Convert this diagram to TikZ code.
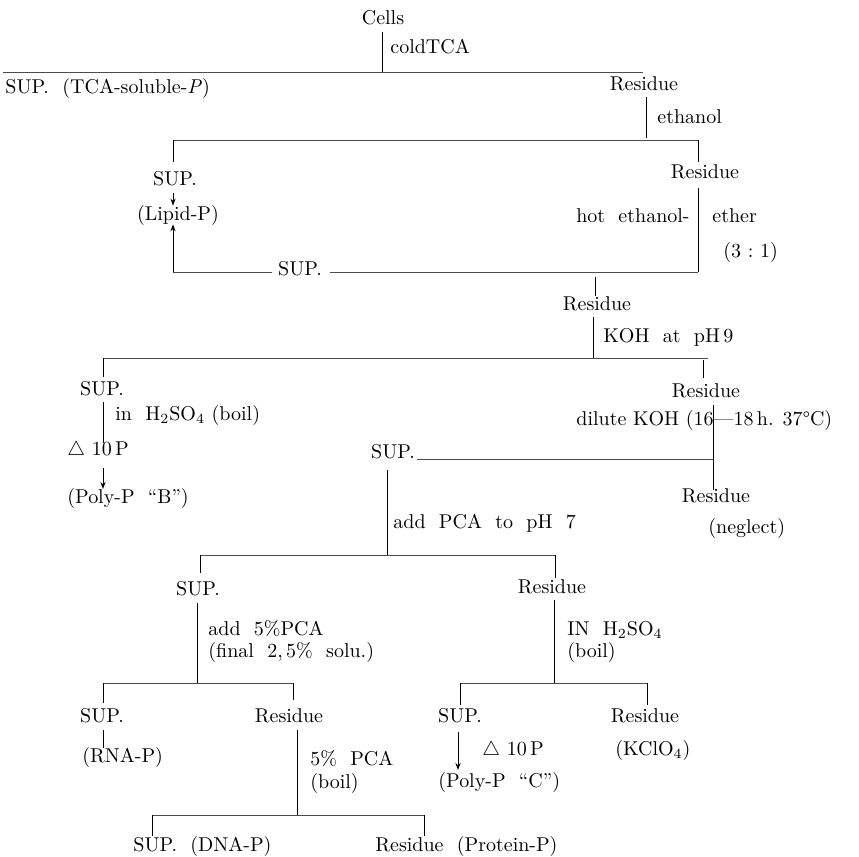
\documentclass[tikz,border=0pt]{standalone}
\usetikzlibrary{arrows.meta}
\begin{document}
\begin{tikzpicture}[x=0.5pt,y=-0.5pt,
  lbl/.style={inner sep=0pt, text height=7pt, text depth=2pt, font=\fontsize{10}{12}\selectfont},
  note/.style={lbl, anchor=west},
  notee/.style={lbl, anchor=east},
  stem/.style={line width=0.5pt, black},
  bar/.style={line width=0.45pt, black!70},
  arr/.style={stem, -{Stealth[length=3.5pt,width=2.6pt]}}]
\useasboundingbox (0,0) rectangle (859,857);

% ---- level 0
\node[lbl] (cells) at (383,19) {Cells};
\coordinate (c0) at (382,72);
\draw[stem] (382,32) -- (c0);
\node[note] at (390,48) {coldTCA};
\coordinate (b1l) at (3,72);
\coordinate (b1r) at (643,72);
\draw[bar] (b1l) -- (b1r);
\node[note] (sup1) at (5,88) {SUP.\ \ (TCA-soluble-\textit{P})};
\node[lbl] (res1) at (644,85) {Residue};
\coordinate (r1b) at (646,138);
\draw[stem] (646,97) -- (r1b);
\node[note] at (657,118) {ethanol};

% ---- level 1
\coordinate (b2l) at (173,140);
\coordinate (b2r) at (698,140);
\draw[bar] (b2l) -- (b2r);
\node[lbl] (sup2) at (175,180) {SUP.};
\node[lbl] (lipid) at (178,215) {(Lipid-P)};
\node[lbl] (res2) at (705,173) {Residue};
\draw[stem] (b2l) -- (173,162);
\draw[stem] (b2r) -- (698,162);
\draw[arr] (173,193) -- (lipid.north -| 173,0);
\coordinate (b3l) at (173,272);
\coordinate (b3r) at (698,272);
\draw[stem] (698,188) -- (b3r);
\node[notee] at (690,217) {hot\ \ ethanol-};
\node[note] at (712,217) {ether};
\node[note] at (723,252) {(3\ :\ 1)};
\node[lbl] (sup3) at (300,270) {SUP.};
\draw[bar] (b3l) -- ([xshift=-3pt]sup3.west |- b3l);
\draw[bar] ([xshift=4pt]sup3.east |- b3r) -- (b3r);
\draw[arr] (b3l) -- (lipid.south -| 173,0);

% ---- level 2
\node[lbl] (res3) at (597,305) {Residue};
\draw[stem] (595,277) -- (res3.north -| 595,0);
\coordinate (b4m) at (593,358);
\draw[stem] (593,317) -- (b4m);
\node[note] at (603,337) {KOH\ \ at\ \ pH\,9};
\coordinate (b4l) at (103,358);
\coordinate (b4r) at (708,358);
\draw[bar] (b4l) -- (b4r);
\node[lbl] (sup4) at (102,390) {SUP.};
\node[lbl] (res4) at (706,392) {Residue};
\draw[stem] (b4l) -- (103,377);
\draw[stem] (703,360) -- (703,378);

% SUP branch (Poly-P B)
\draw[stem] (103,402) -- (103,443);
\node[note] at (115,415) {in\ \ H$_2$SO$_4$ (boil)};
\node[note] (d10a) at (67,450) {$\triangle$ 10\,P};
\node[note] (polyb) at (67,498) {(Poly-P\ \ ``B'')};
\draw[arr] (103,468) -- (103,489);

% Residue branch
\coordinate (b5r) at (713,459);
\draw[stem] (713,405) -- (713,490);
\node[note] at (576,420) {dilute KOH (16---18\,h. 37\textdegree C)};
\node[lbl] (sup5) at (393,453) {SUP.};
\draw[bar] ([xshift=1pt]sup5.east |- b5r) -- (b5r);
\node[lbl] (res5) at (716,497) {Residue};
\node[note] at (708,528) {(neglect)};

% ---- level 3
\coordinate (b6m) at (387,555);
\draw[stem] (387,470) -- (b6m);
\node[note] at (393,523) {add\ \ PCA\ \ to\ \ pH\ \ 7};
\coordinate (b6l) at (200,555);
\coordinate (b6r) at (555,555);
\draw[bar] (b6l) -- (b6r);
\node[lbl] (sup6) at (198,590) {SUP.};
\node[lbl] (res6) at (552,588) {Residue};
\draw[stem] (b6l) -- (200,573);
\draw[stem] (b6r) -- (555,578);

% SUP6 branch
\coordinate (b7m) at (197,683);
\draw[stem] (197,603) -- (b7m);
\node[note] at (208,630) {add\ \ 5\%PCA};
\node[note] at (208,652) {(final\ \ 2,\,5\%\ \ solu.)};
\coordinate (b7l) at (103,683);
\coordinate (b7r) at (293,683);
\draw[bar] (b7l) -- (b7r);
\node[lbl] (sup7) at (102,717) {SUP.};
\node[lbl] (res7) at (289,717) {Residue};
\draw[stem] (b7l) -- (103,703);
\draw[stem] (b7r) -- (293,700);
\node[note] (rna) at (82,757) {(RNA-P)};
\draw[stem] (103,730) -- (103,748);
\coordinate (b8m) at (297,815);
\draw[stem] (297,730) -- (b8m);
\node[note] at (310,760) {5\%\ \ PCA};
\node[note] at (310,783) {(boil)};
\coordinate (b8l) at (152,815);
\coordinate (b8r) at (424,815);
\draw[bar] (b8l) -- (b8r);
\node[note] (sup9) at (133,846) {SUP.\ \ (DNA-P)};
\node[note] (res9) at (375,846) {Residue\ \ (Protein-P)};
\draw[stem] (b8l) -- (152,836);
\draw[stem] (b8r) -- (424,836);

% Residue6 branch
\coordinate (b9m) at (554,683);
\draw[stem] (554,600) -- (b9m);
\node[note] at (567,630) {IN\ \ H$_2$SO$_4$};
\node[note] at (567,652) {(boil)};
\coordinate (b9l) at (460,683);
\coordinate (b9r) at (647,683);
\draw[bar] (b9l) -- (b9r);
\node[lbl] (sup8) at (460,717) {SUP.};
\node[lbl] (res8) at (645,717) {Residue};
\draw[stem] (b9l) -- (460,705);
\draw[stem] (b9r) -- (647,705);
\node[note] (polyc) at (438,782) {(Poly-P\ \ ``C'')};
\draw[arr] (458,732) -- (458,770);
\node[note] at (482,750) {$\triangle$\ 10\,P};
\node[note] at (615,750) {(KClO$_4$)};
\end{tikzpicture}
\end{document}
